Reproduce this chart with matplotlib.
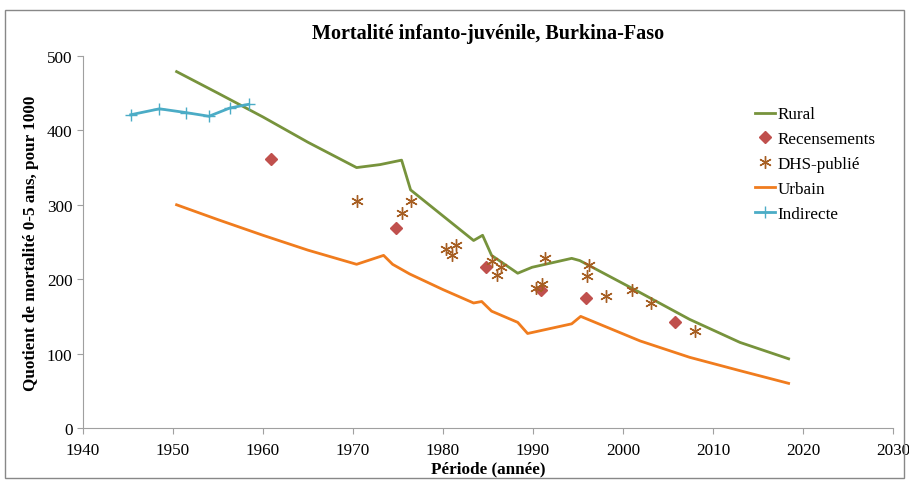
import matplotlib
matplotlib.use("Agg")
from matplotlib import pyplot as plt
from matplotlib.patches import Rectangle

# Rural
rural_x = [1950.4, 1955.0, 1960.0, 1965.0, 1970.4, 1973.0, 1975.4, 1976.4, 1980.0, 1983.4,
           1984.4, 1985.4, 1988.3, 1989.9, 1994.3, 1995.2, 2001.9, 2007.4, 2013.0, 2018.4]
rural_y = [479, 450, 418, 384, 350, 354, 360, 320, 285, 252,
           259, 232, 208, 216, 228, 225, 182, 146, 115, 93]

# Urbain
urbain_x = [1950.4, 1955.0, 1960.0, 1965.0, 1970.4, 1973.4, 1974.4, 1976.3, 1980.0, 1983.4,
            1984.3, 1985.4, 1988.3, 1989.4, 1994.3, 1995.3, 2001.9, 2007.4, 2013.0, 2018.4]
urbain_y = [300, 280, 259, 239, 220, 232, 220, 207, 186, 168,
            170, 157, 142, 127, 140, 150, 117, 95, 77, 60]

# Indirecte
indir_x = [1945.3, 1948.5, 1951.4, 1954.0, 1956.3, 1958.4]
indir_y = [421, 429, 424, 419, 430, 435]

# Recensements
recens_x = [1960.9, 1974.8, 1984.8, 1990.9, 1995.9, 2005.8]
recens_y = [361, 269, 217, 185, 175, 142]

# DHS-publié
dhs_x = [1970.4, 1975.4, 1976.4, 1980.3, 1981.4, 1981.0, 1985.4, 1986.0, 1986.4, 1991.3,
         1990.3, 1991.0, 1996.2, 1996.0, 1998.1, 2001.0, 2003.1, 2008.0]
dhs_y = [305, 289, 305, 241, 246, 232, 225, 206, 217, 229,
         188, 193, 219, 204, 178, 185, 168, 130]

plt.rcParams['font.family'] = ['Liberation Serif', 'DejaVu Serif']

fig = plt.figure(figsize=(9.09, 4.85), dpi=100)
ax = fig.add_axes([0.0913, 0.1155, 0.8911, 0.767])

ax.plot(rural_x, rural_y, color='#77933C', lw=2, label='Rural')
ax.plot(recens_x, recens_y, ls='none', marker='D', ms=6, color='#C0504D', label='Recensements')
ax.plot(dhs_x, dhs_y, ls='none', marker=(6, 2, 0), ms=9, mew=1.0, color='#A65E22', label='DHS-publié')
ax.plot(urbain_x, urbain_y, color='#F07C1E', lw=2, label='Urbain')
ax.plot(indir_x, indir_y, color='#4BACC6', lw=2, marker='+', ms=9, mew=1.0, label='Indirecte')

ax.set_xlim(1940, 2030)
ax.set_ylim(0, 500)
ax.set_xticks(range(1940, 2031, 10))
ax.set_yticks(range(0, 501, 100))
for s in ['top', 'right']:
    ax.spines[s].set_visible(False)
for s in ['left', 'bottom']:
    ax.spines[s].set_color('#A0A0A0')
ax.tick_params(direction='out', length=4, color='#A0A0A0', labelsize=12.3)
ax.tick_params(axis='x', pad=6)

ax.set_title('Mortalité infanto-juvénile, Burkina-Faso', fontsize=14.5, fontweight='bold', pad=13)
ax.set_xlabel('Période (année)', fontsize=12.3, fontweight='bold', labelpad=2)
ax.set_ylabel('Quotient de mortalité 0-5 ans, pour 1000', fontsize=12.3, fontweight='bold', labelpad=6)

ax.legend(loc='upper left', bbox_to_anchor=(0.821, 0.796), bbox_transform=fig.transFigure,
          frameon=False, fontsize=12.3, borderpad=0, handlelength=1.2, handletextpad=0.15,
          labelspacing=0.52)

fig.patches.append(Rectangle((0.005, 0.012), 0.99, 0.966, transform=fig.transFigure,
                             fill=False, edgecolor='#888888', lw=1))

fig.savefig('out.png', dpi=100)
